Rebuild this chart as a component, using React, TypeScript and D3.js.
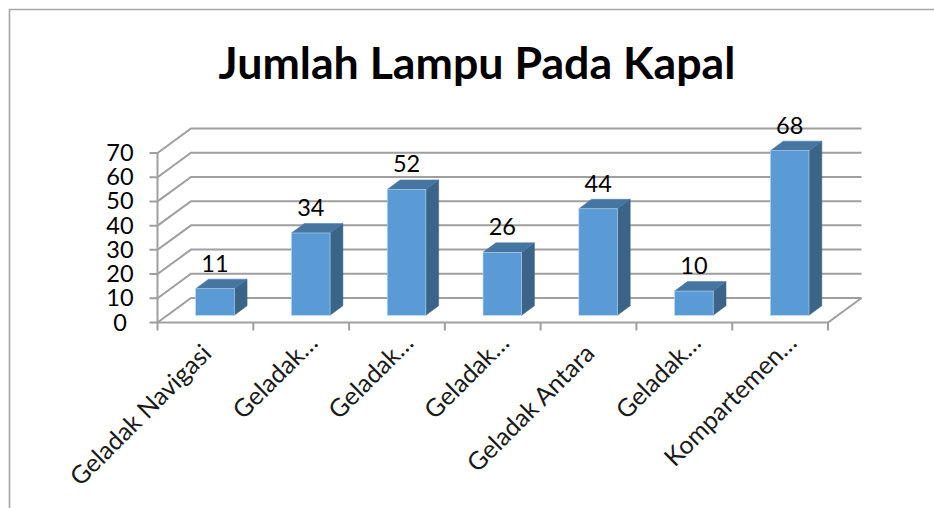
import React from "react";
import * as d3 from "d3";

const title = "Jumlah Lampu Pada Kapal";
const categories = ["Geladak Navigasi", "Geladak…", "Geladak…", "Geladak…", "Geladak Antara", "Geladak…", "Kompartemen…"];
const values = [11, 34, 52, 26, 44, 10, 68];
const yTicks = [0, 10, 20, 30, 40, 50, 60, 70];

const W = 934, H = 508;
const x0 = 157.5, x1 = 828;
const yBase = 322.5, yTop = 153;
const depthX = 33.5, depthY = -24.5;
const FONT = "Lato, Carlito, Calibri, sans-serif";

const y = d3.scaleLinear().domain([0, 70]).range([yBase, yTop]);
const x = d3.scaleBand<number>().domain(d3.range(categories.length)).range([x0, x1]).paddingInner(0).paddingOuter(0);

const barW = 38.6;
const barShiftX = 9.6, barShiftY = -7.2;
const barDX = 12.8, barDY = -9.5;
const line = d3.line();

export default function App() {
  const axisColor = "#9f9f9f";
  const sw = 2;
  return (
    <svg width={W} height={H} style={{ position: "absolute", left: 0, top: 0, background: "#fff" }}>
      <path d={`M9.5,${H}V9.5H${W}`} fill="none" stroke="#a8a8a8" strokeWidth={1.7} />
      <text x={477} y={79} textAnchor="middle" fontFamily={FONT} fontWeight={700} fontSize={44.7} fill="#000">{title}</text>

      {yTicks.map((t) => (
        <path key={t} d={line([[x0 - 8, y(t)], [x0, y(t)], [x0 + depthX, y(t) + depthY], [x1 + depthX, y(t) + depthY]])!} stroke={axisColor} strokeWidth={sw} fill="none" />
      ))}
      <path d={line([[x0, yTop], [x0, yBase + 8]])!} stroke={axisColor} strokeWidth={sw} fill="none" />
      <path d={line([[x0, yBase], [x1, yBase], [x1 + depthX, yBase + depthY]])!} stroke={axisColor} strokeWidth={sw} fill="none" />
      {categories.map((_, i) => (
        <path key={i} d={line([[x(i)! + x.bandwidth(), yBase], [x(i)! + x.bandwidth(), yBase + 8]])!} stroke={axisColor} strokeWidth={sw} fill="none" />
      ))}

      {yTicks.map((t) => (
        <text key={t} x={120} y={y(t) + 8} textAnchor="middle" fontFamily={FONT} fontSize={23.5} fill="#000">{t}</text>
      ))}

      {values.map((v, i) => {
        const cx = x(i)! + x.bandwidth() / 2 + barShiftX;
        const l = cx - barW / 2, r = cx + barW / 2;
        const b = y(0) + barShiftY;
        const t = y(v) + barShiftY;
        return (
          <g key={i}>
            <path d={line([[r, b], [r + barDX, b + barDY], [r + barDX, t + barDY], [r, t]])! + "Z"} fill="#3a6488" stroke="#3a6488" strokeWidth={0.5} />
            <path d={line([[l, t], [l + barDX, t + barDY], [r + barDX, t + barDY], [r, t]])! + "Z"} fill="#4675a2" stroke="#4675a2" strokeWidth={0.5} />
            <rect x={l} y={t} width={barW} height={b - t} fill="#5b9bd5" stroke="#b9d3ec" strokeWidth={0.6} />
            <text x={cx} y={t - 17} textAnchor="middle" fontFamily={FONT} fontSize={23.5} fill="#000">{v}</text>
          </g>
        );
      })}

      {categories.map((c, i) => {
        const cx = x(i)! + x.bandwidth() / 2;
        return (
          <text key={i} transform={`translate(${cx + 7.5},${yBase + 32.5}) rotate(-45)`} dx={c.endsWith("…") ? 15 : 0} textAnchor="end" fontFamily={FONT} fontSize={25} fill="#1a1a1a">{c}</text>
        );
      })}
    </svg>
  );
}
